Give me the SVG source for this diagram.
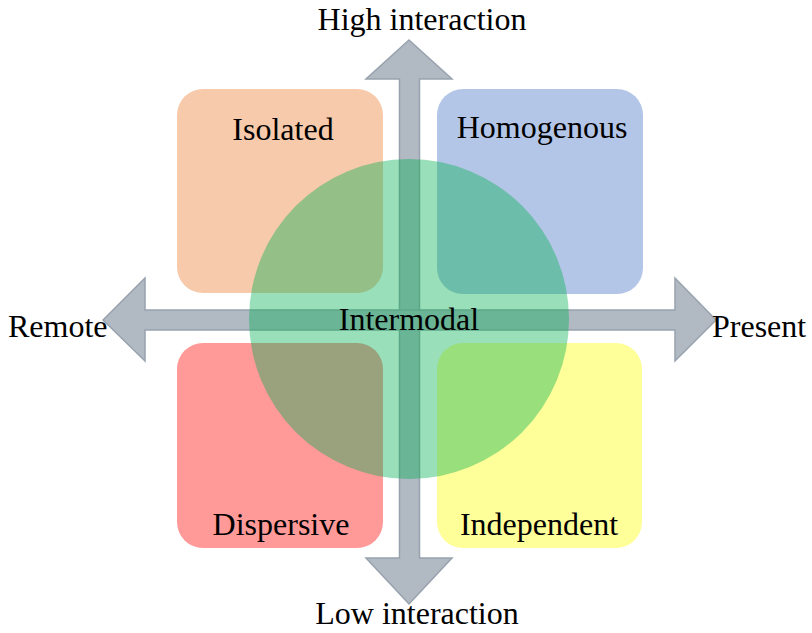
<svg xmlns="http://www.w3.org/2000/svg" width="812" height="633" viewBox="0 0 812 633">
<style>
text{font-family:"Liberation Serif","Times New Roman",serif;font-size:32px;fill:#000}
.box{stroke:none}
.arrow{fill:#b1b9c3;stroke:#98a2ae;stroke-width:1.5;stroke-linejoin:miter}
</style>
<rect width="812" height="633" fill="#fff"/>
<g id="isolated"><rect class="box" x="177" y="89" width="206" height="204" rx="26" fill="#f7caab"/><text x="283" y="140" text-anchor="middle">Isolated</text></g>
<g id="homogenous"><rect class="box" x="437" y="89" width="206" height="205" rx="26" fill="#b4c6e7"/><text x="542" y="138" text-anchor="middle">Homogenous</text></g>
<g id="dispersive"><rect class="box" x="177" y="343" width="206" height="205" rx="26" fill="#ff9a99"/></g>
<g id="independent"><rect class="box" x="437" y="343" width="205" height="205" rx="26" fill="#ffff99"/></g>
<g id="connectors">
<path class="arrow" d="M409,40 L452,79 L419.5,79 L419.5,558 L452,558 L409,604 L366,558 L399.5,558 L399.5,79 L366,79 Z"/>
<path class="arrow" d="M103,320 L145,278 L145,310 L675,310 L675,278 L716,320 L675,361 L675,330 L145,330 L145,361 Z"/>
</g>
<g id="intermodal"><circle cx="409" cy="319" r="160" fill="#00b050" fill-opacity="0.4"/><text x="409" y="330" text-anchor="middle">Intermodal</text></g>
<g id="dispersive-label"><text x="281" y="535" text-anchor="middle">Dispersive</text></g>
<g id="independent-label"><text x="539" y="535" text-anchor="middle">Independent</text></g>
<g id="high"><text x="422" y="30" text-anchor="middle">High interaction</text></g>
<g id="low"><text x="417" y="624" text-anchor="middle">Low interaction</text></g>
<g id="remote"><text x="8" y="337">Remote</text></g>
<g id="present"><text x="712" y="337">Present</text></g>
</svg>
